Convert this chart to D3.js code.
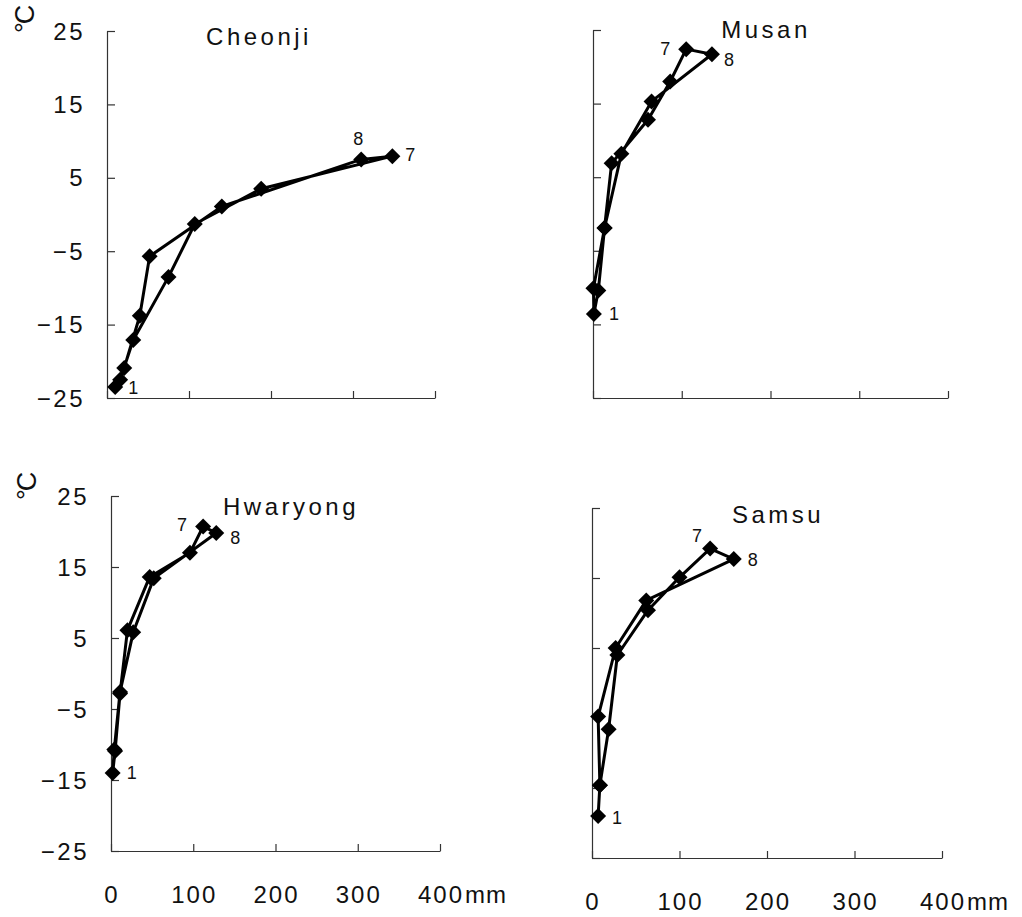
<!DOCTYPE html>
<html>
<head>
<meta charset="utf-8">
<script src="https://cdn.jsdelivr.net/npm/d3@7"></script>
<style>
  html, body { margin: 0; padding: 0; background: #fff; }
  svg { display: block; }
  text { font-family: "Liberation Sans", Arial, sans-serif; fill: #111; }
</style>
</head>
<body>
<svg id="chart" width="1022" height="917"></svg>
<script>
// ---------- data (month 1..12) ----------
const months = [1,2,3,4,5,6,7,8,9,10,11,12];
const yTicks = [25, 15, 5, -5, -15, -25];
const xTicks = [0, 100, 200, 300, 400];
const xUnit = "mm";
const tempUnit = "°C";
const labelledMonths = [1, 7, 8];

const cheonjiName = "Cheonji";
const cheonjiPrecip = [10, 16, 32, 75, 107, 188, 348, 310, 140, 52, 40, 21];
const cheonjiTemp   = [-23.5, -22.5, -17.1, -8.5, -1.3, 3.5, 7.95, 7.5, 1.1, -5.7, -13.8, -20.9];

const musanName = "Musan";
const musanPrecip = [1, 6, 13, 21, 62, 87, 105, 134, 66, 32, 13, 0.5];
const musanTemp   = [-13.6, -10.4, -1.9, 6.9, 12.8, 18.0, 22.4, 21.7, 15.3, 8.2, -1.9, -10.1];

const hwaryongName = "Hwaryong";
const hwaryongPrecip = [2, 5, 11, 20, 47, 96, 112, 128, 52, 27, 11, 4];
const hwaryongTemp   = [-14.0, -10.9, -2.8, 6.1, 13.6, 17.0, 20.7, 19.8, 13.4, 5.8, -2.6, -10.7];

const samsuName = "Samsu";
const samsuPrecip = [7, 9, 19, 29, 64, 100, 135, 162, 62, 27, 7, 9];
const samsuTemp   = [-19.0, -14.6, -6.6, 4.0, 10.4, 15.1, 19.2, 17.7, 11.8, 5.0, -4.8, -14.6];

// ---------- layout ----------
const panels = [
  { name: cheonjiName, precip: cheonjiPrecip, temp: cheonjiTemp,
    xr: [107, 435], yr: [398, 31], yLabels: true, xLabels: false,
    title: [259, 45], lab: {1: [18, 1], 7: [18, -1], 8: [-3, -20]} },
  { name: musanName, precip: musanPrecip, temp: musanTemp,
    xr: [593, 948], yr: [398, 30], yLabels: false, xLabels: false,
    title: [766, 38], lab: {1: [20, 0], 7: [-21, 0], 8: [17, 6]} },
  { name: hwaryongName, precip: hwaryongPrecip, temp: hwaryongTemp,
    xr: [111, 440], yr: [851, 496], yLabels: true, xLabels: true,
    title: [291, 515], lab: {1: [19, 0], 7: [-21, -2], 8: [19, 5]} },
  { name: samsuName, precip: samsuPrecip, temp: samsuTemp,
    xr: [592, 942], yr: [858, 508], yLabels: false, xLabels: true,
    title: [778, 523], lab: {1: [19, 2], 7: [-13, -13], 8: [19, 1]} }
];

const svg = d3.select("#chart");
svg.append("rect").attr("width", 1022).attr("height", 917).attr("fill", "#fff");

const diamond = "M0,-8L8,0L0,8L-8,0Z";

panels.forEach(p => {
  const x = d3.scaleLinear().domain([0, 400]).range(p.xr);
  const y = d3.scaleLinear().domain([-25, 25]).range(p.yr);
  const g = svg.append("g");

  // y axis (ticks inward)
  const ya = g.append("g").attr("transform", `translate(${p.xr[0]},0)`)
    .call(d3.axisRight(y).tickValues(yTicks).tickSize(8).tickSizeOuter(0).tickFormat(""));
  ya.selectAll("path,line").attr("stroke", "#333").attr("stroke-width", 1.2);

  // x axis (ticks inward)
  const xa = g.append("g").attr("transform", `translate(0,${p.yr[0]})`)
    .call(d3.axisTop(x).tickValues(xTicks).tickSize(7).tickSizeOuter(0).tickFormat(""));
  xa.selectAll("path,line").attr("stroke", "#333").attr("stroke-width", 1.2);

  if (p.yLabels) {
    g.selectAll(".yl").data(yTicks).enter().append("text")
      .attr("x", p.xr[0] - 22).attr("y", d => y(d))
      .attr("text-anchor", "end").attr("dominant-baseline", "central")
      .style("font-size", "24px").style("letter-spacing", "2.5px")
      .text(d => String(d).replace("-", "\u2212"));
  }
  if (p.xLabels) {
    g.selectAll(".xl").data(xTicks).enter().append("text")
      .attr("x", d => x(d) + 1).attr("y", p.yr[0] + 52)
      .attr("text-anchor", "middle")
      .style("font-size", "24px").style("letter-spacing", "2px")
      .text(d => d);
    g.append("text").attr("x", x(400) + 25).attr("y", p.yr[0] + 52)
      .style("font-size", "24px").style("letter-spacing", "1px").text(xUnit);
  }

  // title
  g.append("text").attr("x", p.title[0]).attr("y", p.title[1])
    .attr("text-anchor", "middle")
    .style("font-size", "24px").style("letter-spacing", "3.5px")
    .text(p.name);

  const pts = months.map((m, i) => ({ m, v: p.precip[i], t: p.temp[i] }));
  const line = d3.line().x(d => x(d.v)).y(d => y(d.t)).curve(d3.curveLinearClosed);
  g.append("path").datum(pts).attr("d", line)
    .attr("fill", "none").attr("stroke", "#000").attr("stroke-width", 3)
    .attr("stroke-linejoin", "round");

  g.selectAll(".pt").data(pts).enter().append("path")
    .attr("d", diamond)
    .attr("transform", d => `translate(${x(d.v)},${y(d.t)})`)
    .attr("fill", "#000");

  g.selectAll(".ml").data(pts.filter(d => labelledMonths.includes(d.m))).enter().append("text")
    .attr("x", d => x(d.v) + p.lab[d.m][0]).attr("y", d => y(d.t) + p.lab[d.m][1])
    .attr("text-anchor", "middle").attr("dominant-baseline", "central")
    .style("font-size", "18px")
    .text(d => d.m);
});

// degree Celsius unit labels (rotated)
[[34, 33], [36, 500]].forEach(([cx, cy]) => {
  svg.append("text").attr("transform", `translate(${cx},${cy}) rotate(-90)`)
    .style("font-size", "27px").style("letter-spacing", "-2px").text(tempUnit);
});
</script>
</body>
</html>
